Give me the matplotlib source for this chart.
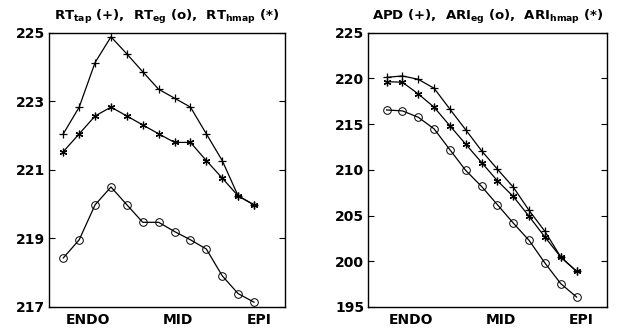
import matplotlib
matplotlib.use("Agg")
import matplotlib.pyplot as plt

plt.rcParams['font.family'] = ['DejaVu Sans']
plt.rcParams['font.weight'] = 'bold'
plt.rcParams['mathtext.fontset'] = 'custom'
plt.rcParams['mathtext.rm'] = 'DejaVu Sans:bold'
plt.rcParams['mathtext.bf'] = 'DejaVu Sans:bold'
plt.rcParams['mathtext.it'] = 'DejaVu Sans:bold'
plt.rcParams['mathtext.default'] = 'bf'

positions = list(range(1, 14))
region_labels = ['ENDO', 'MID', 'EPI']
region_ticks = [2.55, 8.2, 13.3]

rt_tap = [222.05, 222.83, 224.13, 224.88, 224.38, 223.86, 223.35, 223.09, 222.83, 222.05, 221.27, 220.24, 219.98]
rt_eg = [218.43, 218.96, 219.98, 220.50, 219.98, 219.47, 219.47, 219.20, 218.96, 218.69, 217.91, 217.39, 217.14]
rt_hmap = [221.53, 222.05, 222.57, 222.83, 222.57, 222.31, 222.05, 221.80, 221.80, 221.27, 220.76, 220.24, 219.98]

apd = [220.12, 220.27, 219.90, 218.92, 216.63, 214.37, 212.08, 210.07, 208.11, 205.56, 203.27, 200.46, 198.90]
ari_eg = [216.55, 216.45, 215.75, 214.48, 212.19, 209.93, 208.18, 206.18, 204.18, 202.28, 199.81, 197.55, 196.09]
ari_hmap = [219.65, 219.58, 218.30, 216.85, 214.81, 212.80, 210.80, 208.80, 207.09, 204.91, 202.65, 200.46, 198.90]

left_yticks = [217, 219, 221, 223, 225]
right_yticks = [195, 200, 205, 210, 215, 220, 225]

fig = plt.figure(figsize=(6.29, 3.29), dpi=100)
ax1 = fig.add_axes([0.0779, 0.0669, 0.3752, 0.8337])
ax2 = fig.add_axes([0.5855, 0.0669, 0.379, 0.8337])

asterisk = (6, 2, 0)

def draw(ax, s_plus, s_o, s_star, yticks, title, xlim):
    lw = 0.9
    ax.plot(positions, s_plus, '-', color='black', lw=lw, marker='+', ms=6, mew=0.9)
    ax.plot(positions, s_star, '-', color='black', lw=lw, marker=asterisk, ms=5.5, mew=0.9)
    ax.plot(positions, s_o, '-', color='black', lw=lw, marker='o', ms=5.5, mfc='none', mew=0.7)
    ax.set_xlim(*xlim)
    ax.set_ylim(yticks[0], yticks[-1])
    ax.set_yticks(yticks)
    ax.set_yticklabels([str(t) for t in yticks], fontsize=10, fontweight='bold')
    ax.set_xticks(region_ticks)
    ax.set_xticklabels(region_labels, fontsize=10, fontweight='bold')
    ax.tick_params(axis='y', direction='in', length=4, width=0.8, right=True, pad=3)
    ax.tick_params(axis='x', length=0, pad=4)
    for sp in ax.spines.values():
        sp.set_linewidth(1.0)
    ax.set_title(title, fontsize=9.5, fontweight='bold', pad=9)

draw(ax1, rt_tap, rt_eg, rt_hmap, left_yticks,
     r'RT$_{tap}$ (+),  RT$_{eg}$ (o),  RT$_{hmap}$ (*)', (0.1, 14.95))
draw(ax2, apd, ari_eg, ari_hmap, right_yticks,
     r'APD (+),  ARI$_{eg}$ (o),  ARI$_{hmap}$ (*)', (-0.16, 14.9))

fig.savefig('out.png', dpi=100)
